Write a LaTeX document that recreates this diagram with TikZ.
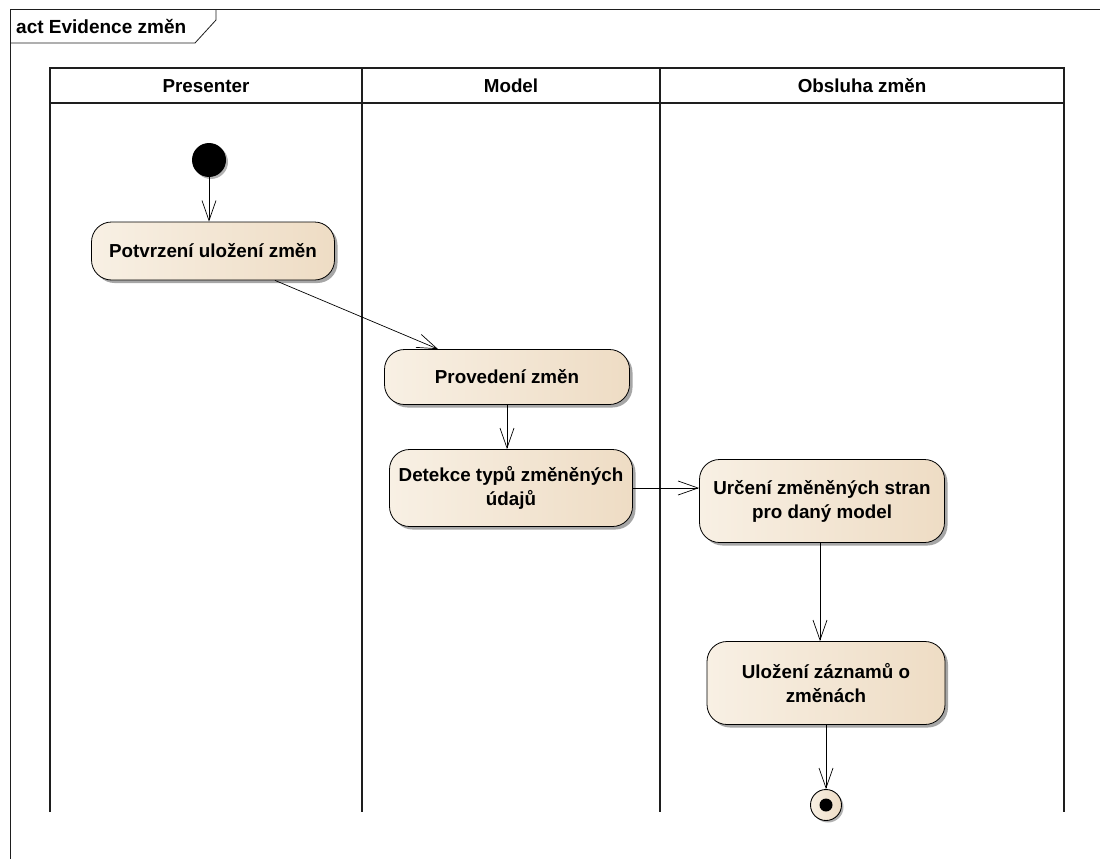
\documentclass[tikz,border=0pt]{standalone}
\usepackage{fontspec}
\setmainfont{Liberation Sans}
\usetikzlibrary{arrows.meta,shadows}
\definecolor{actL}{HTML}{F8F0E4}
\definecolor{actR}{HTML}{EEDCC4}
\definecolor{frameGray}{HTML}{1E1E1E}
\tikzset{
  lane/.style={draw=frameGray, line width=1.3pt},
  action/.style={draw=black, line width=0.8pt, rounded corners=20pt,
    left color=actL, right color=actR, align=center,
    font=\bfseries\fontsize{18.8}{24}\selectfont, inner sep=0pt,
    drop shadow={shadow xshift=3pt, shadow yshift=-3pt, opacity=0.35, fill=black}},
  flow/.style={draw=black, line width=0.7pt, -{Straight Barb[length=20pt,width=14pt,line width=0.7pt]}},
  lanehead/.style={font=\bfseries\fontsize{18.8}{22}\selectfont, anchor=center},
}
\begin{document}
\begin{tikzpicture}[x=1pt,y=-1pt]
\useasboundingbox (0,0) rectangle (1100,859);
\fill[white] (0,0) rectangle (1100,859);

% diagram frame with its name tab
\draw[line width=1pt, frameGray] (10,859) -- (10,10) -- (1100,10);
\draw[line width=0.8pt, frameGray] (10,43) -- (195,43) -- (216,20) -- (216,10);
\node[anchor=west, font=\bfseries\fontsize{19}{22}\selectfont, inner sep=0pt] (title) at (16,27) {act Evidence změn};

% swimlanes
\draw[lane] (50,812) -- (50,68) -- (1064,68) -- (1064,812);
\draw[lane] (50,103) -- (1064,103);
\draw[lane] (362,68) -- (362,812);
\draw[lane] (660,68) -- (660,812);
\node[lanehead] (l1) at (206,86) {Presenter};
\node[lanehead] (l2) at (511,86) {Model};
\node[lanehead] (l3) at (862,86) {Obsluha změn};

% start and end
\node[circle, fill=black, minimum size=34pt, inner sep=0pt,
  drop shadow={shadow xshift=2pt, shadow yshift=-2pt, opacity=0.3, fill=black}] (start) at (209,160) {};
\node[circle, draw=black, line width=0.9pt, left color=actL, right color=actR,
  minimum size=31pt, inner sep=0pt,
  drop shadow={shadow xshift=2pt, shadow yshift=-2pt, opacity=0.3, fill=black}] (end) at (826,805) {};
\fill[black] (end.center) circle (6.5pt);

% actions
\node[action, minimum width=243pt, minimum height=58pt] (a1) at (213,251) {Potvrzení uložení změn};
\node[action, minimum width=245pt, minimum height=55pt] (a2) at (507,377) {Provedení změn};
\node[action, minimum width=243pt, minimum height=77pt] (a3) at (511,488) {Detekce typů změněných\\údajů};
\node[action, minimum width=245pt, minimum height=83pt] (a4) at (822,501) {Určení změněných stran\\pro daný model};
\node[action, minimum width=238pt, minimum height=83pt] (a5) at (826,683) {Uložení záznamů o\\změnách};

% control flows
\draw[flow] (start.south) -- (a1.north -| start.south);
\draw[flow] (a1.south) ++(62,0) coordinate (f1) (f1) -- ([xshift=-69pt]a2.north);
\draw[flow] (a2.south) -- (a3.north -| a2.south);
\draw[flow] (a3.east) -- (a4.west |- a3.east);
\draw[flow] ([xshift=-2pt]a4.south) -- ([xshift=-6pt]a5.north);
\draw[flow] (a5.south) -- (end.north);
\end{tikzpicture}
\end{document}
